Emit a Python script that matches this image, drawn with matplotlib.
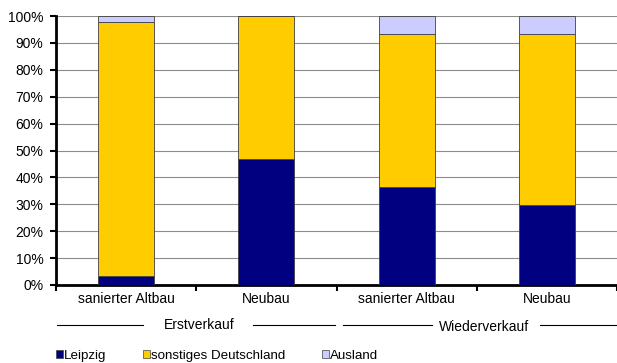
import numpy as np
import matplotlib
matplotlib.use("Agg")
from matplotlib import pyplot as plt
from matplotlib.patches import Patch
from matplotlib.lines import Line2D

plt.rcParams['font.family'] = ['Liberation Sans', 'DejaVu Sans']
plt.rcParams['font.size'] = 10

categories = ['sanierter Altbau', 'Neubau', 'sanierter Altbau', 'Neubau']
groups = ['Erstverkauf', 'Wiederverkauf']
leipzig = [3.5, 46.8, 36.4, 29.7]
sonstiges = [94.1, 53.2, 56.9, 63.6]
ausland = [2.4, 0.0, 6.7, 6.7]
series_names = ['Leipzig', 'sonstiges Deutschland', 'Ausland']
colors = ['#000080', '#FFCC00', '#CCCCFF']

fig = plt.figure(figsize=(6.17, 3.63), dpi=100)
ax = fig.add_axes([56 / 617, 78 / 363, 561 / 617, 269 / 363])

x = np.arange(len(categories))
bottom = np.zeros(len(categories))
for vals, col in zip([leipzig, sonstiges, ausland], colors):
    ax.bar(x, vals, width=0.4, bottom=bottom, color=col,
           edgecolor='#404040', linewidth=0.6, zorder=3)
    bottom += np.array(vals)

ax.set_xlim(-0.5, len(categories) - 0.5)
ax.set_ylim(0, 100)
ax.set_yticks(np.arange(0, 101, 10))
ax.set_yticklabels([f'{v}%' for v in range(0, 101, 10)])
ax.yaxis.grid(True, color='#8c8c8c', linewidth=0.8, zorder=0)
ax.set_axisbelow(True)

ax.set_xticks(x)
ax.set_xticklabels(categories)
ax.tick_params(axis='x', length=0, pad=5)
ax.set_xticks(np.arange(-0.5, len(categories), 1), minor=True)
ax.tick_params(axis='x', which='minor', length=4, width=1.5, direction='out')
ax.tick_params(axis='y', length=4, width=1.5, direction='out', pad=5)

for s in ['top', 'right']:
    ax.spines[s].set_visible(False)
for s in ['left', 'bottom']:
    ax.spines[s].set_linewidth(2)
    ax.spines[s].set_color('black')

# group labels with lines
def hline(x0, x1, y):
    fig.add_artist(Line2D([x0 / 617, x1 / 617], [1 - y / 363, 1 - y / 363],
                          color='black', linewidth=0.8))

hline(57, 143, 325)
hline(253, 335, 325)
fig.text(199.5 / 617, 1 - 325 / 363, groups[0], ha='center', va='center')
hline(343, 432, 325)
hline(540, 617, 325)
fig.text(484 / 617, 1 - 327 / 363, groups[1], ha='center', va='center')

handles = [Patch(facecolor=c, edgecolor='#404040', linewidth=0.5) for c in colors]
fig.legend(handles, series_names, loc='center left', bbox_to_anchor=(56 / 617, 1 - 356 / 363),
           ncol=3, frameon=False, fontsize=9.6, handlelength=0.5, handleheight=0.55,
           handletextpad=0.1, columnspacing=2.75, borderpad=0, borderaxespad=0)

fig.savefig('out.png', dpi=100)
